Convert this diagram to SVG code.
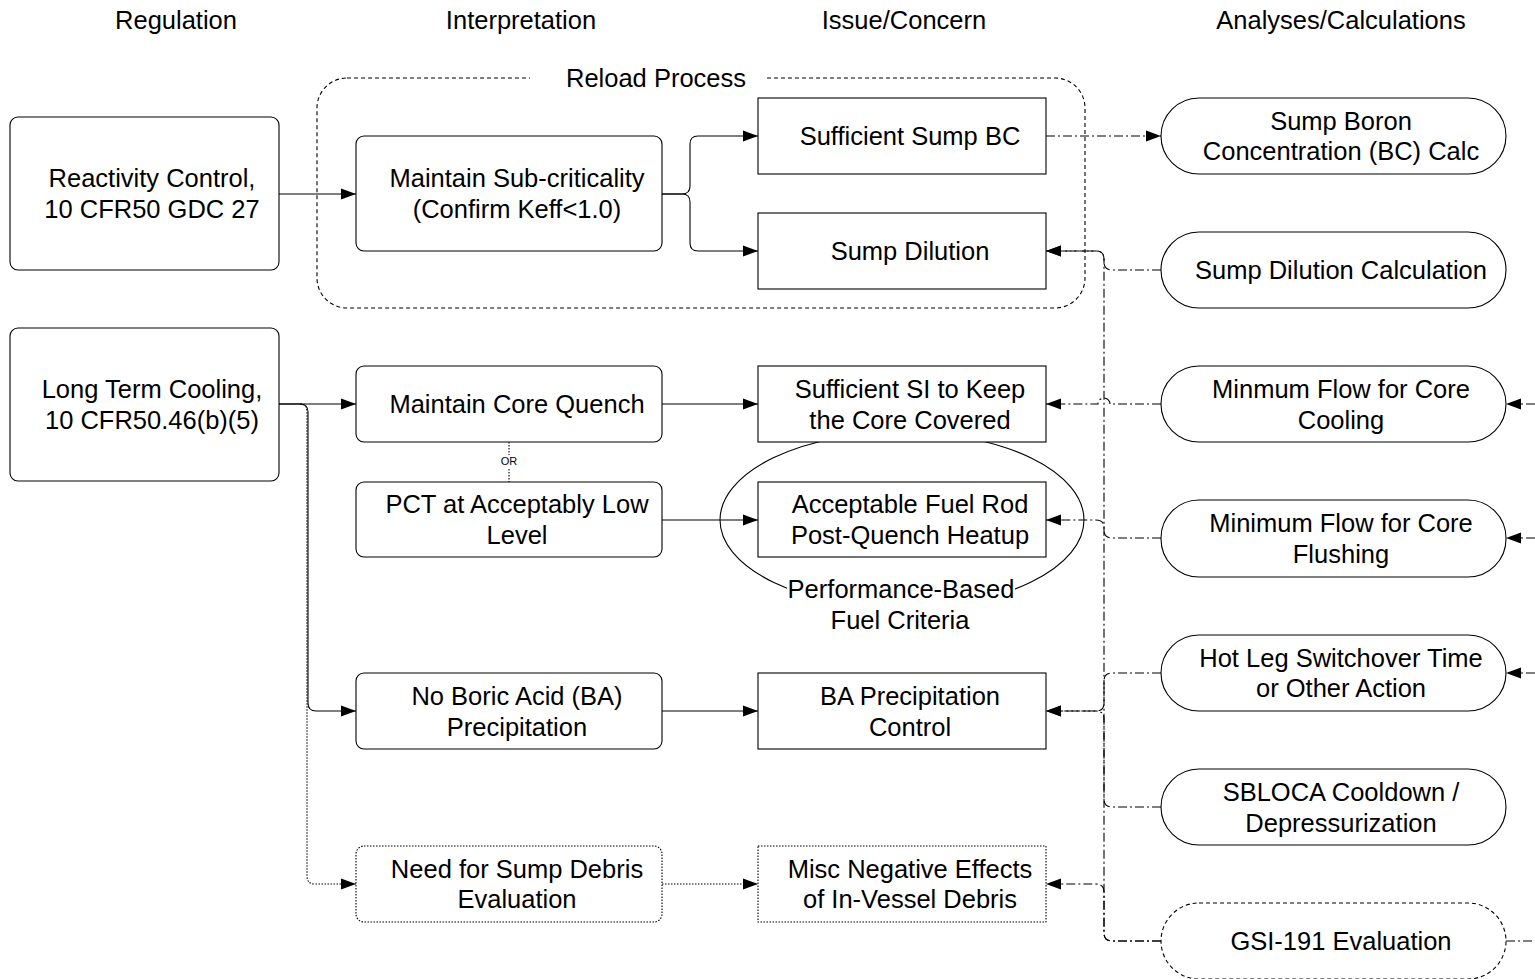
<svg xmlns="http://www.w3.org/2000/svg" width="1535" height="979" viewBox="0 0 1535 979">
<defs>
<marker id="arr" markerUnits="userSpaceOnUse" markerWidth="15" markerHeight="12" viewBox="0 0 15 12" refX="15" refY="6" orient="auto">
<path d="M0,0.5 L15,6 L0,11.5 z" fill="#000"/>
</marker>
</defs>
<style>
text{font-family:"Liberation Sans",Arial,sans-serif;font-size:25.5px;fill:#000;text-anchor:middle}
.box{fill:#fff;stroke:#000;stroke-width:1.1}
.dot{fill:#fff;stroke:#000;stroke-width:1.1;stroke-dasharray:1.5 1.5}
.dsh{fill:#fff;stroke:#000;stroke-width:1.1;stroke-dasharray:4 3}
.grp{fill:none;stroke:#000;stroke-width:1.1;stroke-dasharray:4 3}
.c{fill:none;stroke:#000;stroke-width:1.1}
.cs{fill:none;stroke:#000;stroke-width:1.1;marker-end:url(#arr)}
.cd{fill:none;stroke:#000;stroke-width:1.1;stroke-dasharray:1.5 1.5;marker-end:url(#arr)}
.ca{fill:none;stroke:#000;stroke-width:1.1;stroke-dasharray:9 3 2 3;marker-end:url(#arr)}
.cn{fill:none;stroke:#000;stroke-width:1.1;stroke-dasharray:9 3 2 3}
</style>
<rect width="1535" height="979" fill="#fff"/>

<g id="headers">
<text x="176" y="29">Regulation</text>
<text x="521" y="29">Interpretation</text>
<text x="904" y="29">Issue/Concern</text>
<text x="1341" y="29">Analyses/Calculations</text>
</g>

<g id="reload-process">
<rect class="grp" x="317" y="78" width="768" height="230" rx="30" ry="30"/>
<rect x="530" y="64" width="236" height="28" fill="#fff"/>
<text x="656" y="87">Reload Process</text>
</g>

<g id="perf-based-ellipse">
<ellipse cx="902" cy="520" rx="182" ry="88" fill="none" stroke="#000" stroke-width="1.1"/>
</g>

<g id="connectors">
<path class="cs" d="M279,194 H356"/>
<path class="cs" d="M662,194 H682 Q690,194 690,186 V144 Q690,136 698,136 H758"/>
<path class="cs" d="M662,194 H682 Q690,194 690,202 V243 Q690,251 698,251 H758"/>
<path class="ca" d="M1046,136 H1161"/>
<path class="ca" d="M1161,270 H1112 Q1104,270 1104,262 V259 Q1104,251 1096,251 H1046"/>
<path class="ca" d="M1161,941 H1112 Q1104,941 1104,933 V259 Q1104,251 1096,251 H1046"/>
<path class="ca" d="M1161,404 H1110 A6,6 0 0 0 1098,404 H1046"/>
<path class="ca" d="M1161,538 H1112 Q1104,538 1104,530 V528 Q1104,520 1096,520 H1046"/>
<path class="ca" d="M1161,673 H1112 Q1104,673 1104,681 V703 Q1104,711 1096,711 H1046"/>
<path class="ca" d="M1161,807 H1112 Q1104,807 1104,799 V719 Q1104,711 1096,711 H1046"/>
<path class="ca" d="M1161,941 H1112 Q1104,941 1104,933 V892 Q1104,884 1096,884 H1046"/>
<path class="ca" d="M1535,404 H1506"/>
<path class="ca" d="M1535,538 H1506"/>
<path class="ca" d="M1535,673 H1506"/>
<path class="cn" d="M1506,941 H1535"/>
<path class="cs" d="M279,404 H356"/>
<path class="cs" d="M279,404 H300 Q308,404 308,412 V703 Q308,711 316,711 H356"/>
<path class="cd" d="M300,404 Q307,404 307,412 V876 Q307,884 315,884 H356"/>
<path class="cs" d="M662,404 H758"/>
<path class="cs" d="M662,520 H758"/>
<path class="cs" d="M662,711 H758"/>
<path class="cd" d="M662,884 H758"/>
<path class="c" d="M509,442 V482" stroke-dasharray="1.5 1.5"/>
<rect x="498" y="455" width="22" height="13" fill="#fff"/>
<text x="509" y="465" style="font-size:11px">OR</text>
</g>

<g id="reactivity-control">
<rect class="box" x="10" y="117" width="269" height="153" rx="8"/>
<text x="152" y="187">Reactivity Control,</text>
<text x="152" y="218">10 CFR50 GDC 27</text>
</g>
<g id="long-term-cooling">
<rect class="box" x="10" y="328" width="269" height="153" rx="8"/>
<text x="152" y="398">Long Term Cooling,</text>
<text x="152" y="429">10 CFR50.46(b)(5)</text>
</g>

<g id="maintain-subcriticality">
<rect class="box" x="356" y="136" width="306" height="115" rx="8"/>
<text x="517" y="187">Maintain Sub-criticality</text>
<text x="517" y="218">(Confirm Keff&lt;1.0)</text>
</g>
<g id="maintain-core-quench">
<rect class="box" x="356" y="366" width="306" height="76" rx="8"/>
<text x="517" y="413">Maintain Core Quench</text>
</g>
<g id="pct-low">
<rect class="box" x="356" y="482" width="306" height="75" rx="8"/>
<text x="517" y="513">PCT at Acceptably Low</text>
<text x="517" y="544">Level</text>
</g>
<g id="no-boric-acid">
<rect class="box" x="356" y="673" width="306" height="76" rx="8"/>
<text x="517" y="705">No Boric Acid (BA)</text>
<text x="517" y="736">Precipitation</text>
</g>
<g id="sump-debris-eval">
<rect class="dot" x="356" y="846" width="306" height="76" rx="8"/>
<text x="517" y="878">Need for Sump Debris</text>
<text x="517" y="908">Evaluation</text>
</g>

<g id="sufficient-sump-bc">
<rect class="box" x="758" y="98" width="288" height="76"/>
<text x="910" y="145">Sufficient Sump BC</text>
</g>
<g id="sump-dilution">
<rect class="box" x="758" y="213" width="288" height="76"/>
<text x="910" y="260">Sump Dilution</text>
</g>
<g id="sufficient-si">
<rect class="box" x="758" y="366" width="288" height="76"/>
<text x="910" y="398">Sufficient SI to Keep</text>
<text x="910" y="429">the Core Covered</text>
</g>
<g id="acceptable-fuel-rod">
<rect class="box" x="758" y="482" width="288" height="75"/>
<text x="910" y="513">Acceptable Fuel Rod</text>
<text x="910" y="544">Post-Quench Heatup</text>
</g>
<g id="ba-precip-control">
<rect class="box" x="758" y="673" width="288" height="76"/>
<text x="910" y="705">BA Precipitation</text>
<text x="910" y="736">Control</text>
</g>
<g id="misc-negative">
<rect class="dot" x="758" y="846" width="288" height="76"/>
<text x="910" y="878">Misc Negative Effects</text>
<text x="910" y="908">of In-Vessel Debris</text>
</g>

<g id="perf-based-label">
<rect x="787" y="575" width="228" height="60" fill="#fff"/>
<text x="901" y="598">Performance-Based</text>
<text x="900" y="629">Fuel Criteria</text>
</g>

<g id="sump-boron-calc">
<rect class="box" x="1161" y="98" width="345" height="76" rx="38"/>
<text x="1341" y="130">Sump Boron</text>
<text x="1341" y="160">Concentration (BC) Calc</text>
</g>
<g id="sump-dilution-calc">
<rect class="box" x="1161" y="232" width="345" height="76" rx="38"/>
<text x="1341" y="279">Sump Dilution Calculation</text>
</g>
<g id="min-flow-cooling">
<rect class="box" x="1161" y="366" width="345" height="76" rx="38"/>
<text x="1341" y="398">Minmum Flow for Core</text>
<text x="1341" y="429">Cooling</text>
</g>
<g id="min-flow-flushing">
<rect class="box" x="1161" y="500" width="345" height="77" rx="38"/>
<text x="1341" y="532">Minimum Flow for Core</text>
<text x="1341" y="563">Flushing</text>
</g>
<g id="hot-leg-switchover">
<rect class="box" x="1161" y="635" width="345" height="76" rx="38"/>
<text x="1341" y="667">Hot Leg Switchover Time</text>
<text x="1341" y="697">or Other Action</text>
</g>
<g id="sbloca-cooldown">
<rect class="box" x="1161" y="769" width="345" height="76" rx="38"/>
<text x="1341" y="801">SBLOCA Cooldown /</text>
<text x="1341" y="832">Depressurization</text>
</g>
<g id="gsi-191">
<rect class="dsh" x="1161" y="903" width="345" height="76" rx="38"/>
<text x="1341" y="950">GSI-191 Evaluation</text>
</g>
</svg>
